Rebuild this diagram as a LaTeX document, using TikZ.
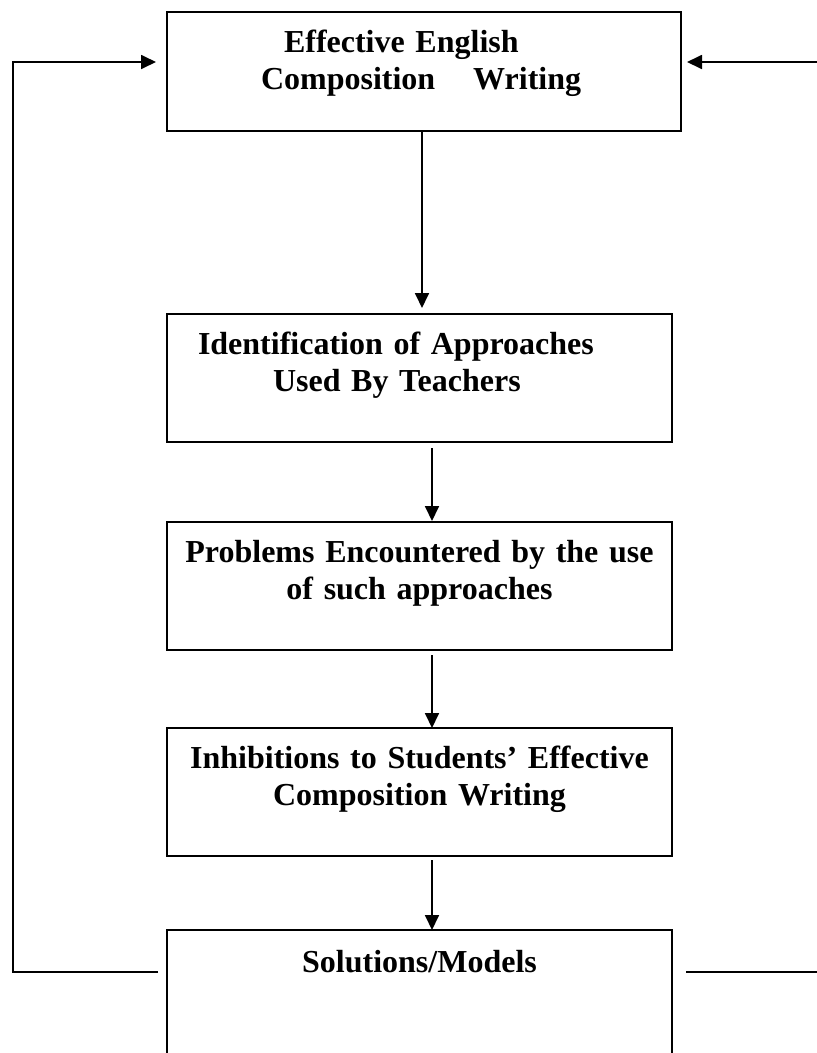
\documentclass[tikz,border=0pt]{standalone}
\usepackage{fontspec}
\setmainfont{Liberation Serif}
\usetikzlibrary{positioning,arrows.meta}

\begin{document}
\begin{tikzpicture}[x=1pt,y=1pt,
        box/.style={rectangle,draw,line width=1.8pt,inner sep=0pt,outer sep=0pt,text width=505pt,
            text height=40pt,text depth=88pt,font=\bfseries\fontsize{32pt}{37pt}\selectfont},
        arr/.style={-{Triangle[length=15pt,width=14pt]}}]
        \useasboundingbox (0,0) rectangle (817,-1053);
        \clip (0,0) rectangle (817,-1053);
        \node (a) [box,align=left,text width=514pt,text depth=79pt,anchor=north west] at (167,-12)
            {\hspace*{117pt}Effective English\\\hspace*{94pt}Composition\hspace{38pt}Writing};
        \node (b) [box,align=left,below=183pt of a.south west,anchor=north west]
            {\hspace*{31pt}Identification of Approaches\\\hspace*{106pt}Used By Teachers};
        \node (c) [box,align=center,below=80pt of b.south west,anchor=north west]
            {Problems Encountered by the use\\of such approaches};
        \node (d) [box,align=center,below=78pt of c.south west,anchor=north west]
            {Inhibitions to Students’ Effective\\Composition Writing};
        \node (e) [box,align=center,text height=42pt,text depth=120pt,below=74pt of d.south west,anchor=north west]
            {Solutions/Models};
        \draw[line width=1.8pt]
        ([xshift=-2pt]a.south) edge[arr,shorten >=6pt] ([xshift=-2pt]a.south |- b.north)
        ([xshift=12.5pt]b.south) edge[arr,shorten <=6pt,shorten >=1pt] ([xshift=12.5pt]b.south |- c.north)
        ([xshift=12.5pt]c.south) edge[arr,shorten <=5pt] ([xshift=12.5pt]c.south |- d.north)
        ([xshift=12.5pt]d.south) edge[arr,shorten <=4pt] ([xshift=12.5pt]d.south |- e.north);
        % feedback back to the top box
        \draw[line width=1.8pt,arr] ([xshift=-9pt]e.base west) -- ++(-145,0) |- ([xshift=-11pt,yshift=9.5pt]a.west);
        \draw[line width=1.8pt,arr] ([xshift=14pt]e.base east) -- ++(160,0) |- ([xshift=6pt,yshift=9.5pt]a.east);
    \end{tikzpicture}
\end{document}
